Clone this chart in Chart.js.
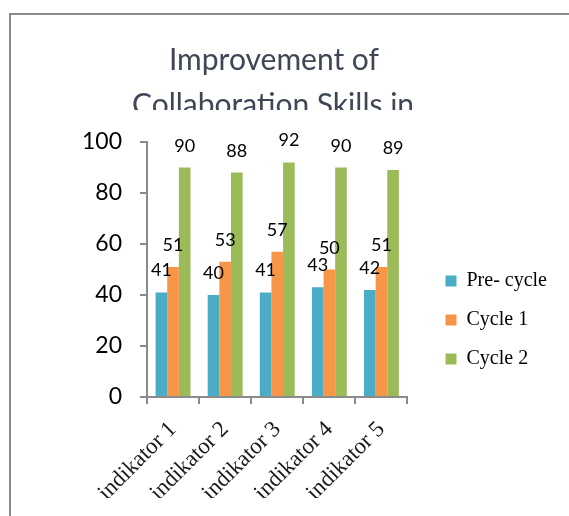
<!DOCTYPE html>
<html>
<head>
<meta charset="utf-8">
<script src="https://cdn.jsdelivr.net/npm/chart.js@4.4.1/dist/chart.umd.min.js"></script>
<style>
  html, body { margin: 0; padding: 0; background: #fff; }
  #wrap { position: relative; width: 569px; height: 516px; overflow: hidden; }
  #frame { position: absolute; left: 9px; top: 13px; width: 700px; height: 700px;
           border-top: 2px solid #8a8a8a; border-left: 2px solid #8a8a8a; }
  canvas { position: absolute; left: 0; top: 0; }
</style>
</head>
<body>
<div id="wrap">
  <div id="frame"></div>
  <canvas id="c" width="569" height="516"></canvas>
</div>
<script>
const titleLines = ["Improvement of", "Collaboration Skills in"];
const categories = ["indikator 1", "indikator 2", "indikator 3", "indikator 4", "indikator 5"];
const seriesNames = ["Pre- cycle", "Cycle 1", "Cycle 2"];
const preCycle = [41, 40, 41, 43, 42];
const cycle1 = [51, 53, 57, 50, 51];
const cycle2 = [90, 88, 92, 90, 89];
const yTicks = [0, 20, 40, 60, 80, 100];
const colors = ["#4bacc6", "#f79646", "#9bbb59"];

const titlePlugin = {
  id: 'clippedTitle',
  afterDraw(chart) {
    const ctx = chart.ctx;
    ctx.save();
    ctx.beginPath();
    ctx.rect(0, 0, chart.width, 110);
    ctx.clip();
    ctx.fillStyle = '#3f4756';
    ctx.font = '30px Lato';
    ctx.textAlign = 'center';
    ctx.textBaseline = 'alphabetic';
    ctx.fillText(titleLines[0], 274, 70);
    ctx.fillText(titleLines[1], 273, 115);
    ctx.restore();
  }
};

const valueLabels = {
  id: 'valueLabels',
  afterDatasetsDraw(chart) {
    const ctx = chart.ctx;
    ctx.save();
    ctx.fillStyle = '#000';
    ctx.font = '18px Lato';
    ctx.textAlign = 'center';
    ctx.textBaseline = 'alphabetic';
    chart.data.datasets.forEach((ds, i) => {
      const meta = chart.getDatasetMeta(i);
      meta.data.forEach((bar, j) => {
        ctx.fillText(String(ds.data[j]), bar.x, bar.y - 16);
      });
    });
    ctx.restore();
  }
};

new Chart(document.getElementById('c'), {
  type: 'bar',
  data: {
    labels: categories,
    datasets: [
      { label: seriesNames[0], data: preCycle, backgroundColor: colors[0] },
      { label: seriesNames[1], data: cycle1, backgroundColor: colors[1] },
      { label: seriesNames[2], data: cycle2, backgroundColor: colors[2] }
    ]
  },
  options: {
    responsive: false,
    animation: false,
    layout: { padding: { left: 9, right: 12, top: 142, bottom: 18 } },
    datasets: { bar: { categoryPercentage: 0.67, barPercentage: 1.0 } },
    scales: {
      x: {
        afterFit: s => { s.height = 101; },
        grid: { display: true, drawOnChartArea: false, tickLength: 7, color: '#8a8a8a', lineWidth: 2, offset: true },
        border: { color: '#8a8a8a', width: 2 },
        ticks: { color: '#1a1a1a', font: { family: 'Liberation Serif', size: 23 }, maxRotation: 45, minRotation: 45, autoSkip: false, padding: 12 }
      },
      y: {
        min: 0, max: 100,
        afterBuildTicks: s => { s.ticks = yTicks.map(v => ({ value: v })); },
        afterFit: s => { s.width = 138; },
        grid: { display: true, drawOnChartArea: false, tickLength: 7, color: '#8a8a8a', lineWidth: 2 },
        border: { color: '#8a8a8a', width: 2 },
        ticks: { color: '#000', font: { family: 'Lato', size: 23 }, padding: 18 }
      },
      y2: {
        type: 'linear', position: 'right', display: true,
        ticks: { display: false }, grid: { display: false }, border: { display: false },
        afterFit: s => { s.width = 19; }
      }
    },
    plugins: {
      title: { display: false },
      tooltip: { enabled: false },
      legend: {
        position: 'right',
        maxWidth: 300,
        labels: { boxWidth: 11, boxHeight: 11, padding: 19, color: '#000', font: { family: 'Liberation Serif', size: 20 } }
      }
    }
  },
  plugins: [titlePlugin, valueLabels]
});
</script>
</body>
</html>
